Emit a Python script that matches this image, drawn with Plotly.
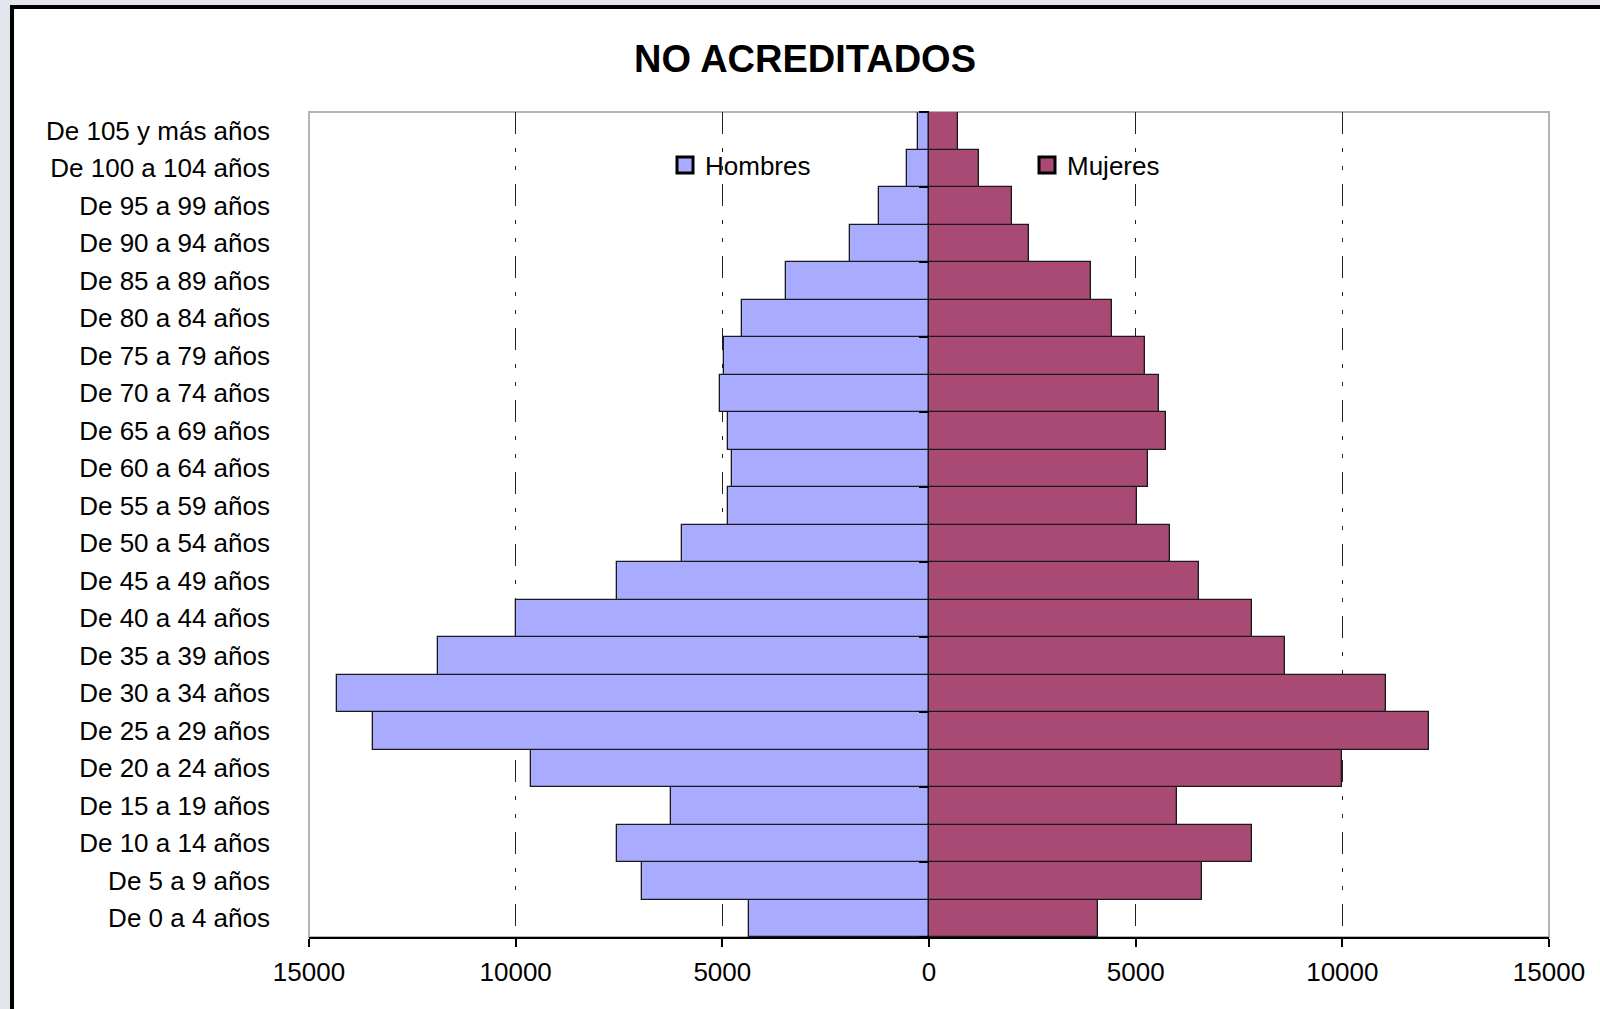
import plotly.graph_objects as go

# Age groups, youngest first (bottom of the pyramid)
grupos = [
    "De 0 a 4 años", "De 5 a 9 años", "De 10 a 14 años", "De 15 a 19 años",
    "De 20 a 24 años", "De 25 a 29 años", "De 30 a 34 años", "De 35 a 39 años",
    "De 40 a 44 años", "De 45 a 49 años", "De 50 a 54 años", "De 55 a 59 años",
    "De 60 a 64 años", "De 65 a 69 años", "De 70 a 74 años", "De 75 a 79 años",
    "De 80 a 84 años", "De 85 a 89 años", "De 90 a 94 años", "De 95 a 99 años",
    "De 100 a 104 años", "De 105 y más años",
]

hombres = [4350, 6950, 7560, 6245, 9630, 13450, 14320, 11890, 9980, 7550, 5985,
           4866, 4775, 4866, 5045, 4960, 4520, 3470, 1905, 1220, 530, 260]

mujeres = [4095, 6615, 7825, 6000, 10000, 12095, 11050, 8615, 7825, 6530, 5840,
           5035, 5300, 5740, 5570, 5215, 4430, 3915, 2430, 2005, 1220, 700]

x_ticks = [-15000, -10000, -5000, 0, 5000, 10000, 15000]
x_tick_text = ["15000", "10000", "5000", "0", "5000", "10000", "15000"]

# Figure geometry (pixels)
W, H = 1600, 1009
L, R, T, B = 309, 1549, 112, 937


def px_x(p):
    return (p - L) / (R - L)


def px_y(p):
    return (B - p) / (B - T)


FONT = "Liberation Sans, Arial, sans-serif"
COL_H = "#a9abff"
COL_M = "#a84a74"
EDGE = "#1a1a1a"

fig = go.Figure()
fig.add_trace(go.Bar(
    y=grupos, x=[-v for v in hombres], orientation="h", name="Hombres",
    marker=dict(color=COL_H, line=dict(color=EDGE, width=1.3)),
    customdata=hombres, hovertemplate="%{y}: %{customdata}<extra>Hombres</extra>",
    showlegend=False,
))
fig.add_trace(go.Bar(
    y=grupos, x=mujeres, orientation="h", name="Mujeres",
    marker=dict(color=COL_M, line=dict(color=EDGE, width=1.3)),
    hovertemplate="%{y}: %{x}<extra>Mujeres</extra>",
    showlegend=False,
))

# Legend keys: boxed squares, one legend per sex
for name, col, leg in [("Hombres", COL_H, "legend"), ("Mujeres", COL_M, "legend2")]:
    fig.add_trace(go.Scatter(
        x=[None], y=[None], mode="markers", name=name, yaxis="y2",
        marker=dict(symbol="square", size=16, color=col,
                    line=dict(color="black", width=3)),
        legend=leg, showlegend=True, hoverinfo="skip",
    ))

n = len(grupos)
center_ticks = [n - 0.5 - 2 * k for k in range(n // 2 + 1)]

shapes = [
    # legend backdrop hiding the grid lines behind the legend entries
    dict(type="rect", xref="paper", yref="paper", layer="between",
         x0=px_x(655), x1=px_x(1175), y0=px_y(207), y1=1,
         fillcolor="white", line=dict(width=0)),
    # light plot-area frame
    dict(type="rect", xref="paper", yref="paper", layer="below",
         x0=0, x1=1, y0=0, y1=1, line=dict(color="#b4b4b4", width=2)),
    # outer chart border
    dict(type="rect", xref="paper", yref="paper", layer="above",
         x0=px_x(-5), x1=px_x(10), y0=px_y(H + 5), y1=px_y(-5),
         fillcolor="#e3e5ec", line=dict(width=0)),
    dict(type="rect", xref="paper", yref="paper", layer="above",
         x0=px_x(-5), x1=px_x(W + 5), y0=px_y(5), y1=px_y(-5),
         fillcolor="#e3e5ec", line=dict(width=0)),
    dict(type="line", xref="paper", yref="paper", layer="above",
         x0=px_x(12), x1=px_x(12), y0=px_y(H + 5), y1=px_y(5),
         line=dict(color="black", width=4)),
    dict(type="line", xref="paper", yref="paper", layer="above",
         x0=px_x(10), x1=px_x(W + 5), y0=px_y(7), y1=px_y(7),
         line=dict(color="black", width=4)),
]

legend_common = dict(orientation="h", xanchor="left", y=px_y(165), yanchor="middle",
                     bgcolor="rgba(0,0,0,0)", borderwidth=0, font=dict(size=26),
                     itemsizing="trace")

fig.update_layout(
    width=W, height=H,
    margin=dict(l=L, r=W - R, t=T, b=H - B, pad=0),
    paper_bgcolor="white", plot_bgcolor="white",
    barmode="relative", bargap=0,
    showlegend=True,
    font=dict(family=FONT, size=26, color="black"),
    title=dict(text="<b>NO ACREDITADOS</b>", x=805 / W, xref="container",
               xanchor="center", y=1 - 59 / H, yref="container", yanchor="middle",
               font=dict(family=FONT, size=38, color="black")),
    xaxis=dict(
        range=[-15000, 15000], tickvals=x_ticks, ticktext=x_tick_text,
        showgrid=True, gridcolor="#222222", gridwidth=1.4,
        griddash="22px,14px,4px,14px,4px,14px",
        zeroline=True, zerolinecolor="black", zerolinewidth=1.5,
        showline=True, linecolor="black", linewidth=2,
        ticks="outside", ticklen=8, tickcolor="black", tickwidth=1.5,
        ticklabelstandoff=3, tickfont=dict(size=26),
    ),
    yaxis=dict(
        type="category", categoryorder="array", categoryarray=grupos,
        range=[-0.5, n - 0.5], showgrid=False, zeroline=False, showline=False,
        ticks="", ticklabelstandoff=38, tickfont=dict(size=26),
    ),
    yaxis2=dict(
        overlaying="y", anchor="free", position=0.5, side="left",
        range=[-0.5, n - 0.5], tickvals=center_ticks, ticks="outside",
        ticklen=10, tickwidth=1.5, tickcolor="black", showticklabels=False,
        showgrid=False, zeroline=False, showline=False,
    ),
    legend=dict(x=px_x(665), **legend_common),
    legend2=dict(x=px_x(1027), **legend_common),
    shapes=shapes,
)

fig.write_html("out.html")
